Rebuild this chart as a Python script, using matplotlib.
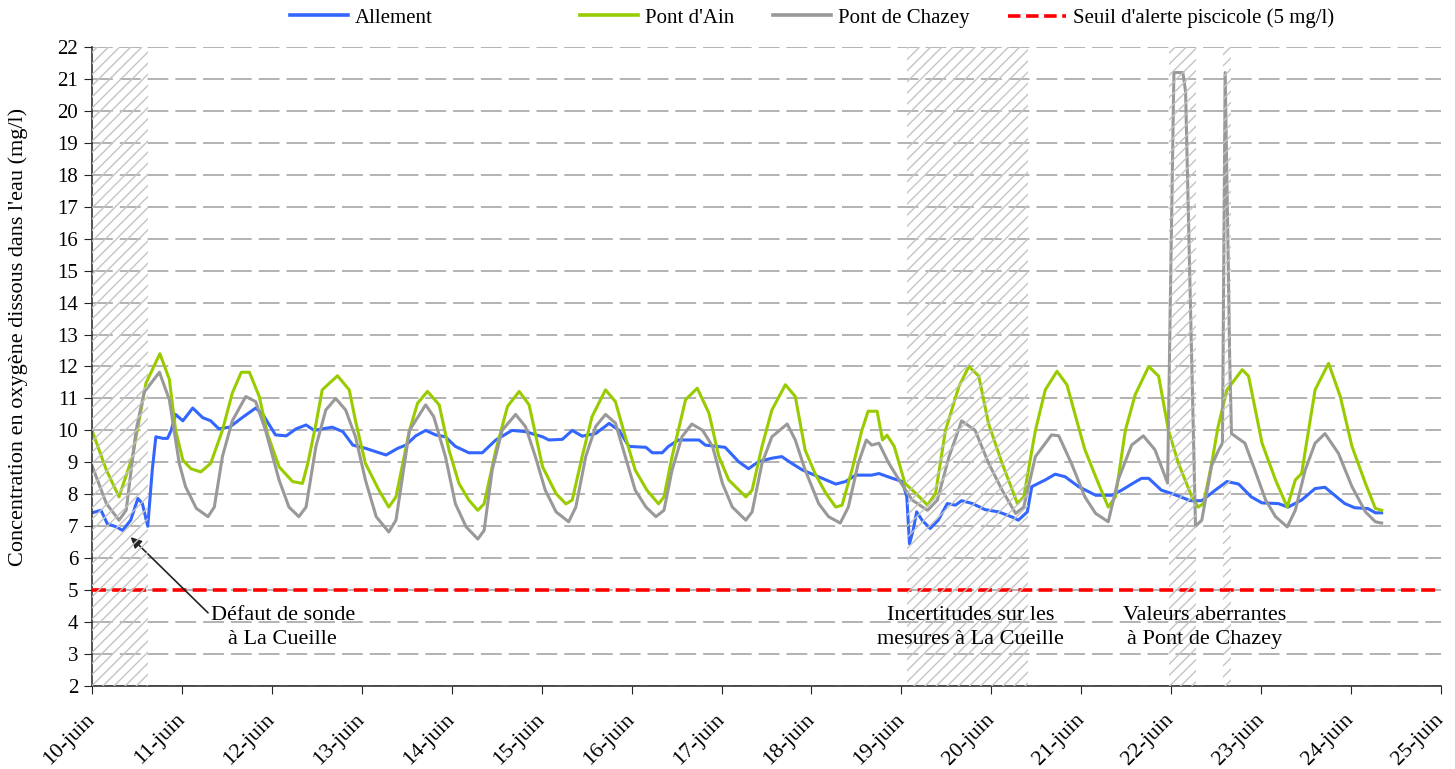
import matplotlib
matplotlib.use('Agg')
import matplotlib.pyplot as plt
from matplotlib.lines import Line2D

plt.rcParams.update({
    'font.family': ['Liberation Serif', 'DejaVu Serif'],
    'font.size': 15,
    'lines.scale_dashes': False,
    'hatch.linewidth': 1.0,
})

# === values (x = days since 10-juin 00h, y = mg/l) ===
ALLEMENT = [
    (0.00, 7.42), (0.10, 7.50), (0.17, 7.08), (0.27, 6.98), (0.34, 6.87), (0.43, 7.19),
    (0.51, 7.87), (0.56, 7.71), (0.62, 7.00), (0.67, 8.76), (0.71, 9.80), (0.79, 9.75),
    (0.84, 9.75), (0.88, 10.00), (0.93, 10.50), (1.01, 10.30), (1.12, 10.70), (1.23, 10.40),
    (1.32, 10.30), (1.41, 10.05), (1.53, 10.10), (1.67, 10.40), (1.82, 10.70), (1.90, 10.50),
    (2.04, 9.86), (2.16, 9.83), (2.27, 10.05), (2.38, 10.17), (2.47, 10.00), (2.67, 10.10),
    (2.79, 9.96), (2.90, 9.54), (3.04, 9.44), (3.16, 9.33), (3.27, 9.23), (3.40, 9.44),
    (3.49, 9.54), (3.60, 9.83), (3.71, 10.00), (3.82, 9.86), (3.93, 9.80), (4.04, 9.50),
    (4.19, 9.30), (4.34, 9.30), (4.49, 9.70), (4.67, 10.00), (4.82, 9.96), (5.01, 9.80),
    (5.08, 9.70), (5.23, 9.72), (5.34, 10.00), (5.45, 9.82), (5.60, 9.90), (5.75, 10.22),
    (5.86, 10.00), (5.97, 9.50), (6.16, 9.47), (6.23, 9.30), (6.34, 9.30), (6.41, 9.50),
    (6.52, 9.70), (6.75, 9.70), (6.82, 9.54), (7.04, 9.47), (7.19, 9.02), (7.30, 8.80),
    (7.41, 9.02), (7.56, 9.13), (7.67, 9.18), (7.78, 8.97), (7.90, 8.76), (8.12, 8.50),
    (8.27, 8.32), (8.38, 8.40), (8.49, 8.60), (8.67, 8.60), (8.75, 8.65), (8.90, 8.50),
    (9.01, 8.40), (9.06, 7.92), (9.09, 6.45), (9.13, 6.87), (9.17, 7.45), (9.23, 7.19),
    (9.32, 6.93), (9.41, 7.19), (9.51, 7.71), (9.60, 7.66), (9.67, 7.80), (9.79, 7.71),
    (9.93, 7.52), (10.08, 7.45), (10.23, 7.29), (10.30, 7.19), (10.40, 7.45), (10.45, 8.24),
    (10.60, 8.45), (10.71, 8.63), (10.82, 8.55), (10.97, 8.24), (11.16, 7.97), (11.34, 7.97),
    (11.45, 8.13), (11.56, 8.32), (11.67, 8.50), (11.75, 8.50), (11.89, 8.13), (12.00, 8.03),
    (12.15, 7.87), (12.21, 7.80), (12.34, 7.80), (12.49, 8.13), (12.62, 8.40), (12.75, 8.32),
    (12.89, 7.92), (13.01, 7.73), (13.19, 7.71), (13.30, 7.60), (13.45, 7.82), (13.60, 8.18),
    (13.71, 8.22), (13.86, 7.87), (13.93, 7.71), (14.04, 7.58), (14.19, 7.55), (14.27, 7.42),
    (14.34, 7.42),
]

PONT_D_AIN = [
    (0.00, 10.00), (0.16, 8.76), (0.30, 7.92), (0.45, 9.18), (0.60, 11.48), (0.755, 12.40),
    (0.86, 11.60), (0.93, 10.00), (1.01, 9.07), (1.10, 8.80), (1.21, 8.70), (1.32, 8.97),
    (1.45, 10.00), (1.56, 11.17), (1.66, 11.82), (1.75, 11.82), (1.86, 11.06), (1.95, 9.90),
    (2.08, 8.86), (2.23, 8.40), (2.34, 8.34), (2.40, 8.97), (2.49, 10.20), (2.56, 11.27),
    (2.73, 11.71), (2.86, 11.27), (2.93, 10.30), (3.04, 8.97), (3.19, 8.13), (3.30, 7.60),
    (3.38, 7.92), (3.53, 10.00), (3.62, 10.85), (3.73, 11.22), (3.86, 10.80), (3.97, 9.38),
    (4.08, 8.34), (4.19, 7.82), (4.29, 7.50), (4.36, 7.70), (4.49, 9.38), (4.62, 10.75),
    (4.75, 11.22), (4.86, 10.80), (5.01, 8.86), (5.16, 8.02), (5.27, 7.70), (5.34, 7.82),
    (5.45, 9.18), (5.56, 10.43), (5.71, 11.27), (5.82, 10.90), (5.93, 9.80), (6.04, 8.76),
    (6.17, 8.13), (6.30, 7.70), (6.36, 7.92), (6.45, 9.18), (6.60, 10.96), (6.73, 11.32),
    (6.86, 10.54), (6.97, 9.18), (7.08, 8.45), (7.27, 7.92), (7.34, 8.13), (7.45, 9.50),
    (7.56, 10.64), (7.71, 11.43), (7.82, 11.06), (7.93, 9.38), (8.04, 8.65), (8.16, 8.03),
    (8.27, 7.60), (8.34, 7.66), (8.45, 8.76), (8.56, 10.00), (8.63, 10.60), (8.73, 10.60),
    (8.79, 9.70), (8.84, 9.85), (8.92, 9.50), (9.04, 8.34), (9.16, 8.03), (9.29, 7.66),
    (9.38, 8.03), (9.49, 10.00), (9.64, 11.38), (9.75, 12.00), (9.86, 11.70), (9.97, 10.20),
    (10.12, 8.97), (10.29, 7.71), (10.36, 7.92), (10.49, 10.00), (10.60, 11.27), (10.73, 11.85),
    (10.84, 11.43), (10.97, 10.10), (11.04, 9.40), (11.16, 8.55), (11.30, 7.60), (11.38, 7.92),
    (11.49, 10.00), (11.60, 11.12), (11.75, 12.00), (11.86, 11.70), (11.97, 10.00), (12.08, 8.97),
    (12.23, 7.92), (12.30, 7.60), (12.36, 7.71), (12.45, 8.97), (12.52, 10.10), (12.62, 11.27),
    (12.79, 11.90), (12.86, 11.70), (13.01, 9.60), (13.16, 8.45), (13.29, 7.60), (13.38, 8.45),
    (13.45, 8.65), (13.60, 11.27), (13.75, 12.10), (13.88, 11.06), (14.01, 9.50), (14.16, 8.34),
    (14.27, 7.56), (14.34, 7.50),
]

PONT_DE_CHAZEY = [
    (0.00, 8.90), (0.16, 7.71), (0.30, 7.19), (0.38, 7.50), (0.49, 10.00), (0.58, 11.20),
    (0.75, 11.82), (0.86, 10.96), (0.97, 8.97), (1.04, 8.24), (1.16, 7.56), (1.29, 7.30),
    (1.36, 7.60), (1.45, 9.18), (1.56, 10.30), (1.71, 11.06), (1.82, 10.90), (1.93, 10.00),
    (2.08, 8.45), (2.19, 7.60), (2.30, 7.30), (2.38, 7.60), (2.49, 9.50), (2.60, 10.64),
    (2.71, 11.00), (2.82, 10.64), (2.93, 9.80), (3.04, 8.45), (3.16, 7.30), (3.30, 6.82),
    (3.38, 7.19), (3.53, 10.00), (3.71, 10.80), (3.80, 10.43), (3.93, 9.18), (4.04, 7.71),
    (4.16, 6.98), (4.29, 6.60), (4.36, 6.87), (4.45, 8.76), (4.56, 10.00), (4.71, 10.50),
    (4.82, 10.12), (4.93, 9.18), (5.04, 8.13), (5.16, 7.45), (5.30, 7.14), (5.38, 7.60),
    (5.49, 9.18), (5.60, 10.12), (5.71, 10.50), (5.82, 10.23), (5.93, 9.18), (6.04, 8.13),
    (6.16, 7.60), (6.27, 7.30), (6.36, 7.50), (6.45, 8.76), (6.56, 9.80), (6.67, 10.20),
    (6.79, 10.00), (6.90, 9.50), (7.01, 8.34), (7.12, 7.60), (7.27, 7.19), (7.34, 7.45),
    (7.45, 8.97), (7.56, 9.80), (7.73, 10.20), (7.82, 9.70), (7.93, 8.76), (8.08, 7.71),
    (8.19, 7.30), (8.32, 7.10), (8.41, 7.60), (8.52, 8.97), (8.61, 9.70), (8.67, 9.54),
    (8.75, 9.60), (8.86, 8.97), (9.01, 8.29), (9.12, 7.82), (9.29, 7.50), (9.40, 7.82),
    (9.53, 9.18), (9.67, 10.30), (9.82, 10.00), (9.97, 8.97), (10.12, 8.13), (10.27, 7.40),
    (10.36, 7.60), (10.49, 9.18), (10.67, 9.86), (10.75, 9.83), (10.89, 8.97), (11.04, 7.92),
    (11.16, 7.40), (11.30, 7.14), (11.41, 8.45), (11.56, 9.54), (11.69, 9.83), (11.82, 9.39),
    (11.96, 8.35), (11.99, 14.00), (12.03, 21.20), (12.13, 21.20), (12.16, 20.60), (12.27, 7.00),
    (12.34, 7.19), (12.45, 8.90), (12.53, 9.40), (12.57, 9.60), (12.60, 21.20), (12.63, 16.00),
    (12.65, 12.30), (12.67, 9.90), (12.82, 9.60), (12.93, 8.76), (13.05, 7.82), (13.16, 7.30),
    (13.29, 6.98), (13.38, 7.50), (13.49, 8.76), (13.60, 9.60), (13.71, 9.90), (13.86, 9.28),
    (14.01, 8.24), (14.16, 7.45), (14.27, 7.14), (14.34, 7.10),
]

SEUIL = 5
DAY_LABELS = [f'{d}-juin' for d in range(10, 26)]
HATCHED = [(0.0, 0.62), (9.06, 10.41), (11.97, 12.28), (12.58, 12.66)]
SERIES_NAMES = ['Allement', "Pont d'Ain", 'Pont de Chazey', "Seuil d'alerte piscicole (5 mg/l)"]

C_BLUE = '#3366FF'
C_GREEN = '#99CC00'
C_GRAY = '#999999'
C_RED = '#FF0000'

fig = plt.figure(figsize=(14.55, 7.69), dpi=100)
ax = fig.add_axes([92 / 1455, 1 - 686 / 769, (1441 - 92) / 1455, (686 - 47) / 769])

for yv in range(2, 23):
    ax.axhline(yv, color='#A6A6A6', lw=1.2, dashes=(15, 5), zorder=0)

for data, col in [(ALLEMENT, C_BLUE), (PONT_D_AIN, C_GREEN), (PONT_DE_CHAZEY, C_GRAY)]:
    t, v = zip(*data)
    ax.plot(t, v, color=col, lw=2.2, zorder=2, solid_joinstyle='round')

ax.axhline(SEUIL, color=C_RED, lw=2.6, dashes=(10, 4.5), zorder=3)

for a, b in HATCHED:
    ax.axvspan(a, b, ymin=0, ymax=1, facecolor='none', edgecolor='#C4C4C4',
               hatch='///', linewidth=0, zorder=4)

ax.set_xlim(0, 15)
ax.set_ylim(2, 22)
ax.set_yticks(range(2, 23))
ax.set_xticks(range(16))
ax.set_xticklabels(DAY_LABELS, rotation=45, ha='right', va='center', rotation_mode='anchor',
                   fontsize=16)
ax.tick_params(axis='x', direction='out', length=6, pad=16, colors='#222222', labelcolor='black')
ax.tick_params(axis='y', direction='out', length=6, pad=4, colors='#222222', labelcolor='black')
for s in ['top', 'right']:
    ax.spines[s].set_visible(False)
for s in ['left', 'bottom']:
    ax.spines[s].set_color('#333333')
    ax.spines[s].set_linewidth(1.2)

fig.text(18 / 1455, 1 - 566 / 769, "Concentration en oxygène dissous dans l'eau (mg/l)",
         rotation=90, ha='center', va='bottom', fontsize=16)

ax.annotate('', xy=(0.43, 6.66), xytext=(1.29, 4.29),
            arrowprops=dict(arrowstyle='-|>', color='#222222', lw=1.2, mutation_scale=16,
                            shrinkA=0, shrinkB=0))
ax.text(2.12, 3.82, 'Défaut de sonde\nà La Cueille', ha='center', va='center',
        linespacing=1.35, fontsize=16, zorder=5)
ax.text(9.77, 3.82, 'Incertitudes sur les\nmesures à La Cueille', ha='center', va='center',
        linespacing=1.35, fontsize=16, zorder=5)
ax.text(12.37, 3.82, 'Valeurs aberrantes\nà Pont de Chazey', ha='center', va='center',
        linespacing=1.35, fontsize=16, zorder=5)

# legend: one entry per box so each can sit where the original has it
handles = [
    Line2D([], [], color=C_BLUE, lw=2.6),
    Line2D([], [], color=C_GREEN, lw=2.6),
    Line2D([], [], color=C_GRAY, lw=2.6),
    Line2D([], [], color=C_RED, lw=2.6, dashes=(9, 4)),
]
leg_x = [290, 580, 773, 1008]
for h, name, x in zip(handles, SERIES_NAMES, leg_x):
    fig.legend(handles=[h], labels=[name], loc='center left',
               bbox_to_anchor=(x / 1455, 1 - 18 / 769), frameon=False,
               borderpad=0, borderaxespad=0, handlelength=2.8, handletextpad=0.3,
               fontsize=15)

fig.savefig('out.png', dpi=100)
